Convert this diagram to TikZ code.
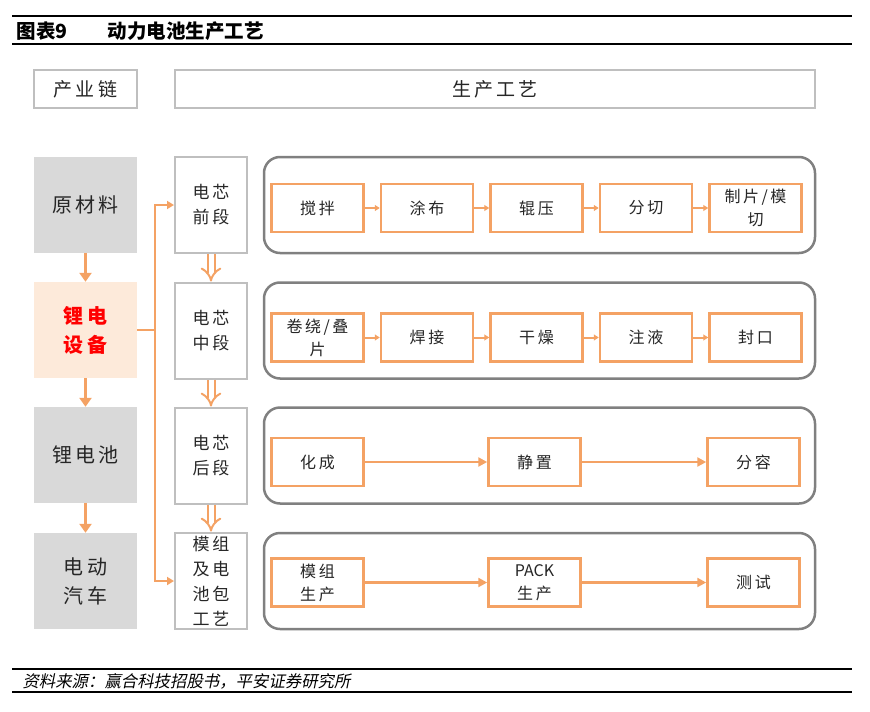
\documentclass[tikz,border=0pt]{standalone}
\usepackage{fontspec}
\setmainfont{Noto Sans CJK SC}
\newfontfamily\kaifont[LetterSpace=16]{Noto Sans CJK SC}
\newfontfamily\srcfont[FakeSlant=0.2]{Noto Sans CJK SC}
\usepackage{xcolor}
\usetikzlibrary{positioning,arrows.meta,shapes}

\definecolor{flowor}{RGB}{244,162,100}
\definecolor{chaingray}{RGB}{217,217,217}
\definecolor{peach}{RGB}{253,234,218}
\definecolor{framegray}{RGB}{128,128,128}
\definecolor{edgegray}{RGB}{191,191,191}

\begin{document}
\begin{tikzpicture}[
    x=1pt, y=-1pt,
    chain/.style={minimum width=103pt, minimum height=96pt, fill=chaingray, align=center,
        text=black!85, font=\kaifont\fontsize{20}{29}\selectfont},
    head/.style={draw=edgegray, line width=2pt, fill=white, minimum height=38pt,
        text=black!85, font=\kaifont\fontsize{19}{24}\selectfont},
    stage/.style={draw=edgegray, line width=2pt, fill=white, minimum width=72pt,
        minimum height=96pt, align=center, text=black!85, font=\kaifont\fontsize{17}{25}\selectfont},
    track/.style={draw=framegray, line width=2.5pt, rounded corners=16pt,
        minimum width=551pt, minimum height=96pt},
    stepbox/.style={draw=flowor, line width=2.5pt, fill=white, minimum width=92pt,
        minimum height=48pt, align=center, text=black!85, font=\kaifont\fontsize{16}{23}\selectfont},
    down/.style={draw=flowor, line width=3.5pt, -{Triangle[length=9pt,width=12pt]}},
    hollow/.style={draw=flowor, double=white, double distance=5pt, line width=2pt, -{Implies}},
    feed/.style={draw=flowor, line width=2pt, -{Triangle[length=7pt,width=8pt]}},
    flowstep/.style={draw=flowor, line width=2pt, -{Triangle[length=5pt,width=6pt]}},
    flowlong/.style={draw=flowor, line width=2.5pt, -{Triangle[length=9pt,width=9pt]}},
    rule/.style={line width=2.5pt}
]
\useasboundingbox (0,0) rectangle (870,712);

% title and source
\draw[rule] (12,16) -- (852,16);
\draw[rule] (12,44) -- (852,44);
\node[anchor=west, font=\bfseries\fontsize{19.5}{22}\selectfont] (ttl) at (13,31) {图表9};
\node[anchor=west, font=\bfseries\fontsize{19.5}{22}\selectfont] (ttlb) at (104,31) {动力电池生产工艺};
\draw[rule] (12,669) -- (852,669);
\draw[rule] (12,692) -- (852,692);
\node[anchor=west, font=\srcfont\fontsize{16.4}{19}\selectfont] (src) at (19,681) {资料来源：赢合科技招股书，平安证券研究所};

% headers
\node[head, minimum width=103pt] (hchain) at (85.5,89) {产业链};
\node[head, minimum width=640pt] (hproc) at (495,89) {生产工艺};

% industry chain
\node[chain] (rm) at (85.5,205) {原材料};
\node[chain, fill=peach, text=red, font=\kaifont\bfseries\fontsize{20}{29}\selectfont] (ld) at (85.5,330) {锂电\\设备};
\node[chain] (lb) at (85.5,455) {锂电池};
\node[chain] (ev) at (85.5,581) {电动\\汽车};
\draw[down] (rm) -- (ld);
\draw[down] (ld) -- (lb);
\draw[down] (lb) -- (ev);

% stages
\node[stage] (qd) at (211,205) {电芯\\前段};
\node[stage] (zd) at (211,330.5) {电芯\\中段};
\node[stage] (hd) at (211,455.5) {电芯\\后段};
\node[stage] (mk) at (211,581) {模组\\及电\\池包\\工艺};
\draw[hollow] (qd) -- (zd);
\draw[hollow] (zd) -- (hd);
\draw[hollow] (hd) -- (mk);
\draw[draw=flowor, line width=2pt] (ld.east) -- ++(18,0) coordinate (jn);
\draw[feed] (jn) |- (qd.west);
\draw[feed] (jn) |- (mk.west);

% process tracks
\node[track] (t1) at (539.5,205) {};
\node[track] (t2) at (539.5,330.5) {};
\node[track] (t3) at (539.5,455.5) {};
\node[track] (t4) at (539.5,581) {};

% front end
\node[stepbox] (a1) at (317.5,208) {搅拌};
\node[stepbox, right=15pt of a1] (a2) {涂布};
\node[stepbox, right=15pt of a2] (a3) {辊压};
\node[stepbox, right=15pt of a3] (a4) {分切};
\node[stepbox, right=15pt of a4] (a5) {制片/模\\切};
\draw[flowstep] (a1) -- (a2);
\draw[flowstep] (a2) -- (a3);
\draw[flowstep] (a3) -- (a4);
\draw[flowstep] (a4) -- (a5);

% middle
\node[stepbox] (b1) at (317.5,337.5) {卷绕/叠\\片};
\node[stepbox, right=15pt of b1] (b2) {焊接};
\node[stepbox, right=15pt of b2] (b3) {干燥};
\node[stepbox, right=15pt of b3] (b4) {注液};
\node[stepbox, right=15pt of b4] (b5) {封口};
\draw[flowstep] (b1) -- (b2);
\draw[flowstep] (b2) -- (b3);
\draw[flowstep] (b3) -- (b4);
\draw[flowstep] (b4) -- (b5);

% back end
\node[stepbox] (c1) at (317.5,462) {化成};
\node[stepbox] (c2) at (534.5,462) {静置};
\node[stepbox] (c3) at (753.5,462) {分容};
\draw[flowlong] (c1) -- (c2);
\draw[flowlong] (c2) -- (c3);

% module and pack
\node[stepbox] (d1) at (317.5,582.5) {模组\\生产};
\node[stepbox] (d2) at (534.5,582.5) {{\fontspec{Noto Sans CJK SC}\fontsize{16}{23}\selectfont PACK}\\生产};
\node[stepbox] (d3) at (753.5,582.5) {测试};
\draw[flowlong] (d1) -- (d2);
\draw[flowlong] (d2) -- (d3);
\end{tikzpicture}
\end{document}
